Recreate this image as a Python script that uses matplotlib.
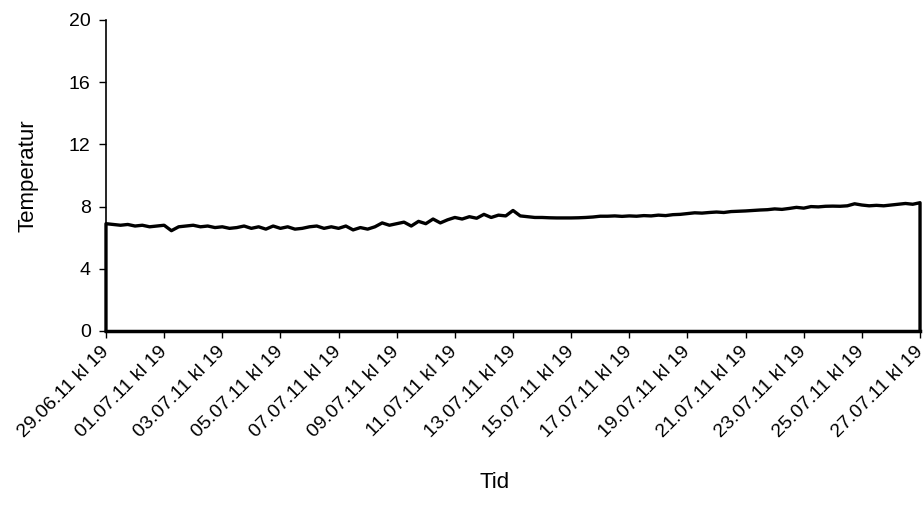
import numpy as np
import matplotlib
matplotlib.use("Agg")
import matplotlib.pyplot as plt

plt.rcParams["font.family"] = ["Liberation Sans", "DejaVu Sans"]

# temperature readings every 6 hours, starting 29.06.11 kl 19
temps = [
    6.9, 6.85, 6.8, 6.85,
    6.75, 6.8, 6.7, 6.75,
    6.8, 6.45, 6.7, 6.75,
    6.8, 6.7, 6.75, 6.65,
    6.7, 6.6, 6.65, 6.75,
    6.6, 6.7, 6.55, 6.75,
    6.6, 6.7, 6.55, 6.6,
    6.7, 6.75, 6.6, 6.7,
    6.6, 6.75, 6.5, 6.65,
    6.55, 6.7, 6.95, 6.8,
    6.9, 7.0, 6.75, 7.05,
    6.9, 7.2, 6.95, 7.15,
    7.3, 7.2, 7.35, 7.25,
    7.5, 7.3, 7.45, 7.4,
    7.75, 7.4, 7.35, 7.3,
    7.3, 7.28, 7.27, 7.27,
    7.27, 7.28, 7.3, 7.33,
    7.38, 7.38, 7.4, 7.37,
    7.4, 7.38, 7.42, 7.4,
    7.45, 7.42, 7.48, 7.5,
    7.55, 7.6, 7.58, 7.62,
    7.65, 7.62, 7.68, 7.7,
    7.72, 7.75, 7.78, 7.8,
    7.85, 7.82, 7.88, 7.95,
    7.9, 8.0, 7.98, 8.02,
    8.03, 8.02, 8.05, 8.18,
    8.1, 8.05, 8.08, 8.05,
    8.1, 8.15, 8.2, 8.15,
    8.25,
]
tick_labels = ["29.06.11 kl 19", "01.07.11 kl 19", "03.07.11 kl 19", "05.07.11 kl 19",
               "07.07.11 kl 19", "09.07.11 kl 19", "11.07.11 kl 19", "13.07.11 kl 19",
               "15.07.11 kl 19", "17.07.11 kl 19", "19.07.11 kl 19", "21.07.11 kl 19",
               "23.07.11 kl 19", "25.07.11 kl 19", "27.07.11 kl 19"]

days = np.arange(len(temps)) * 0.25
# logger reads 0 before start and after stop
x = np.concatenate([[0], days, [days[-1]]])
y = np.concatenate([[0], temps, [0]])

fig = plt.figure(figsize=(9.24, 5.05), dpi=100)
ax = fig.add_axes([0.1147, 0.3446, 0.881, 0.6158])
ax.plot(x, y, color="black", lw=2.4, clip_on=False, solid_joinstyle="round")

ax.set_xlim(0, 28)
ax.set_ylim(0, 20)
ax.set_yticks([0, 4, 8, 12, 16, 20])
ax.set_xticks(np.arange(0, 29, 2))
ax.set_xticklabels(tick_labels, rotation=45, ha="right", va="center", rotation_mode="anchor")
ax.tick_params(labelsize=14, direction="out", length=5, width=1, colors="black")
ax.tick_params(axis="x", pad=8)
ax.tick_params(axis="y", pad=6)

for s in ["top", "right"]:
    ax.spines[s].set_visible(False)
ax.spines["left"].set_linewidth(1.2)
ax.spines["bottom"].set_linewidth(2.5)

fig.text(0.030, 0.6525, "Temperatur", rotation=90, ha="center", va="center", fontsize=16)
fig.text(0.535, 0.045, "Tid", ha="center", va="center", fontsize=16)

fig.savefig("out.png", dpi=100)
